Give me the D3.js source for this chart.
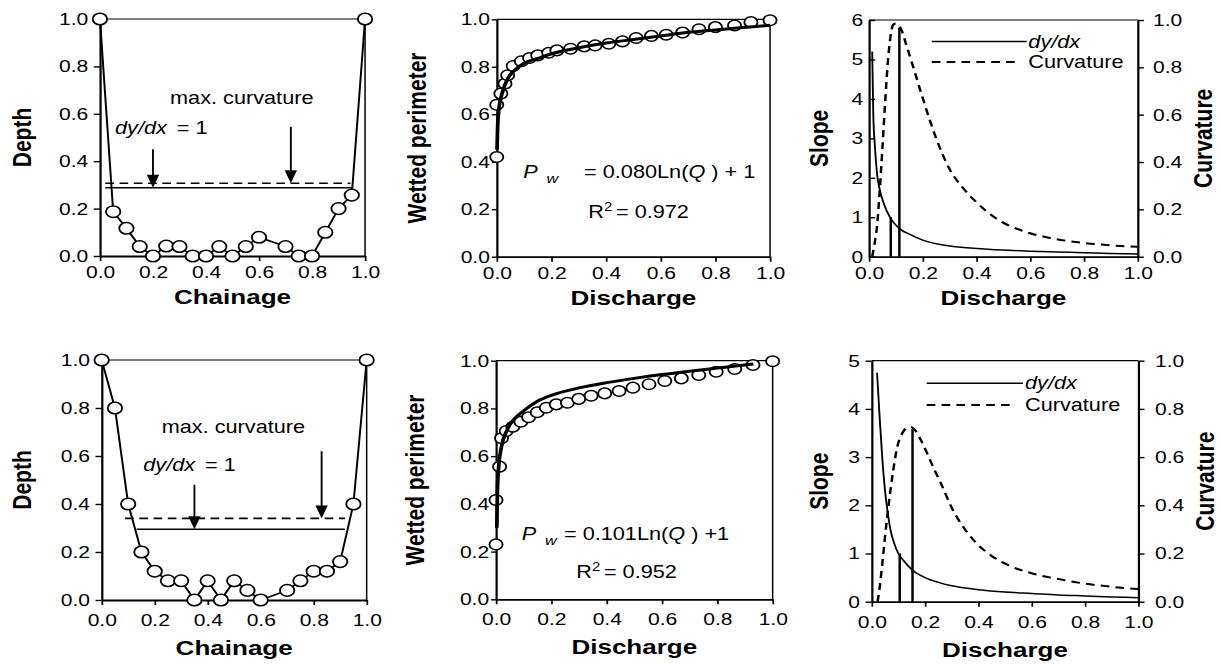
<!DOCTYPE html>
<meta charset="utf-8">
<script src="https://d3js.org/d3.v7.min.js"></script>
<style>
  body { margin: 0; background: #fff; }
  text { font-family: "Liberation Sans", Arial, sans-serif; fill: #000; }
</style>
<div id="page"></div>
<script>

  // ---- data ----
  var xTicks = [0, 0.2, 0.4, 0.6, 0.8, 1.0];
  var unitTicks = [0, 0.2, 0.4, 0.6, 0.8, 1.0];
  var slopeTicks1 = [0, 1, 2, 3, 4, 5, 6];
  var slopeTicks2 = [0, 1, 2, 3, 4, 5];

  // cross sections (top / bottom)
  var chainage1 = [0, 0.05, 0.10, 0.15, 0.20, 0.25, 0.30, 0.35, 0.40, 0.45, 0.50, 0.55, 0.60, 0.70, 0.75, 0.80, 0.85, 0.90, 0.95, 1.0];
  var depth1 = [1.0, 0.187, 0.117, 0.04, 0, 0.042, 0.04, 0, 0, 0.04, 0, 0.04, 0.079, 0.04, 0, 0, 0.10, 0.20, 0.257, 1.0];
  var chainage2 = [0, 0.05, 0.10, 0.15, 0.20, 0.25, 0.30, 0.35, 0.40, 0.45, 0.50, 0.55, 0.60, 0.70, 0.75, 0.80, 0.85, 0.90, 0.95, 1.0];
  var depth2 = [1.0, 0.80, 0.40, 0.20, 0.12, 0.08, 0.08, 0, 0.08, 0, 0.08, 0.04, 0, 0.04, 0.08, 0.12, 0.12, 0.16, 0.40, 1.0];

  // water levels: [max curvature (dashed), dy/dx = 1 (solid)]
  var level1 = [0.307, 0.288], levelFrom1 = [0.02, 0.02], levelTo1 = [0.945, 0.955];
  var level2 = [0.34, 0.295], levelFrom2 = [0.088, 0.132], levelTo2 = [0.918, 0.918];
  // arrows: [dy/dx = 1, max curvature]
  var arrowX1 = [0.20, 0.72], arrowTop1 = [0.45, 0.545], arrowTip1 = [0.288, 0.307];
  var arrowX2 = [0.35, 0.83], arrowTop2 = [0.48, 0.62], arrowTip2 = [0.295, 0.34];

  // wetted perimeter vs discharge
  var q1 = [0, 0, 0.015, 0.03, 0.04, 0.06, 0.09, 0.12, 0.15, 0.19, 0.22, 0.27, 0.32, 0.36, 0.41, 0.46, 0.51, 0.566, 0.62, 0.68, 0.74, 0.80, 0.87, 0.93, 1.0];
  var pw1 = [0.42, 0.64, 0.687, 0.729, 0.764, 0.803, 0.823, 0.837, 0.848, 0.859, 0.869, 0.876, 0.886, 0.89, 0.897, 0.907, 0.921, 0.93, 0.935, 0.944, 0.958, 0.967, 0.974, 0.988, 0.996];
  var fitQ1 = [0.001, 0.003, 0.006, 0.01, 0.02, 0.04, 0.06, 0.1, 0.15, 0.2, 0.3, 0.4, 0.5, 0.6, 0.7, 0.8, 0.9, 1.0];
  var fitP1 = [0.45, 0.54, 0.60, 0.64, 0.69, 0.75, 0.78, 0.815, 0.835, 0.855, 0.88, 0.90, 0.915, 0.93, 0.945, 0.955, 0.965, 0.975];

  var q2 = [0, 0, 0.013, 0.02, 0.037, 0.061, 0.09, 0.118, 0.149, 0.182, 0.218, 0.258, 0.299, 0.344, 0.393, 0.445, 0.495, 0.553, 0.61, 0.67, 0.733, 0.796, 0.863, 0.929, 1.0];
  var pw2 = [0.23, 0.416, 0.556, 0.675, 0.705, 0.723, 0.744, 0.763, 0.784, 0.803, 0.817, 0.824, 0.84, 0.853, 0.863, 0.873, 0.887, 0.901, 0.915, 0.926, 0.94, 0.954, 0.965, 0.982, 0.998];
  var fitQ2 = [0.003, 0.005, 0.01, 0.02, 0.04, 0.07, 0.1, 0.15, 0.2, 0.3, 0.4, 0.5, 0.6, 0.7, 0.8, 0.93];
  var fitP2 = [0.30, 0.45, 0.56, 0.64, 0.71, 0.76, 0.79, 0.83, 0.855, 0.886, 0.908, 0.926, 0.942, 0.956, 0.969, 0.986];

  // slope (left axis) and curvature (right axis)
  var slopeQ1 = [0.012, 0.016, 0.022, 0.03, 0.04, 0.055, 0.078, 0.1, 0.12, 0.15, 0.2, 0.3, 0.4, 0.5, 0.6, 0.7, 0.8, 0.9, 1.0];
  var slope1 = [5.2, 3.6, 2.8, 2.1, 1.7, 1.35, 1.0, 0.8, 0.68, 0.57, 0.42, 0.27, 0.21, 0.17, 0.14, 0.12, 0.10, 0.08, 0.07];
  var curvQ1 = [0.012, 0.02, 0.03, 0.04, 0.05, 0.06, 0.07, 0.08, 0.09, 0.1, 0.12, 0.14, 0.165, 0.2, 0.25, 0.3, 0.35, 0.4, 0.475, 0.57, 0.67, 0.8, 0.9, 1.0];
  var curv1 = [0.0, 0.05, 0.13, 0.28, 0.46, 0.65, 0.82, 0.93, 0.98, 0.985, 0.96, 0.89, 0.80, 0.67, 0.50, 0.37, 0.29, 0.23, 0.16, 0.11, 0.08, 0.058, 0.048, 0.042];
  var markQ1 = [0.081, 0.113], markTop1 = [1.0, 5.8];

  var slopeQ2 = [0.02, 0.03, 0.04, 0.05, 0.06, 0.07, 0.085, 0.1, 0.12, 0.15, 0.2, 0.25, 0.3, 0.4, 0.5, 0.6, 0.7, 0.8, 0.9, 1.0];
  var slope2 = [4.75, 3.8, 2.95, 2.3, 1.85, 1.5, 1.2, 1.0, 0.85, 0.67, 0.5, 0.4, 0.33, 0.25, 0.2, 0.17, 0.14, 0.12, 0.10, 0.08];
  var curvQ2 = [0.022, 0.03, 0.04, 0.05, 0.06, 0.07, 0.08, 0.09, 0.1, 0.115, 0.13, 0.145, 0.16, 0.18, 0.2, 0.23, 0.26, 0.3, 0.35, 0.4, 0.45, 0.52, 0.6, 0.7, 0.8, 0.9, 1.0];
  var curv2 = [0.0, 0.06, 0.16, 0.27, 0.37, 0.46, 0.54, 0.61, 0.66, 0.70, 0.72, 0.725, 0.715, 0.68, 0.635, 0.56, 0.49, 0.39, 0.30, 0.235, 0.19, 0.148, 0.118, 0.094, 0.075, 0.062, 0.052];
  var markQ2 = [0.105, 0.153], markTop2 = [1.0, 3.58];

  // ---- layout: the original figure is stretched horizontally ----
  var sx = 1.24;
  var svg = d3.select("#page").append("svg")
    .attr("width", 1221)
    .attr("height", 664);
  var root = svg.append("g").attr("transform", "scale(" + sx + ",1)");

  function zip(a, b) { return a.map(function (d, i) { return [d, b[i]]; }); }

  function panel(box, ymax, yTicks, yFmt, opt) {
    var x = d3.scaleLinear().domain([0, 1]).range([box.l, box.r]);
    var y = d3.scaleLinear().domain([0, ymax]).range([box.b, box.t]);
    var y2 = d3.scaleLinear().domain([0, 1]).range([box.b, box.t]);
    var g = root.append("g");

    // top + right frame
    g.append("path")
      .attr("d", "M" + box.l + "," + box.t + "H" + box.r + (opt.right ? "" : "V" + box.b))
      .attr("fill", "none").attr("stroke", "#000").attr("stroke-width", 1.2);

    var xa = g.append("g")
      .attr("transform", "translate(0," + box.b + ")")
      .call(d3.axisBottom(x).tickValues(xTicks).tickFormat(d3.format(".1f"))
        .tickSizeInner(5).tickSizeOuter(0).tickPadding(opt.xpad));
    var ya = g.append("g")
      .attr("transform", "translate(" + box.l + ",0)")
      .call(d3.axisLeft(y).tickValues(yTicks).tickFormat(d3.format(yFmt))
        .tickSizeInner(opt.ytick).tickSizeOuter(0).tickPadding(opt.ypad));
    var axes = [xa, ya];

    if (opt.right) {
      axes.push(g.append("g")
        .attr("transform", "translate(" + box.r + ",0)")
        .call(d3.axisRight(y2).tickValues(unitTicks).tickFormat(d3.format(".1f"))
          .tickSizeInner(5).tickSizeOuter(0).tickPadding(opt.rpad)));
      g.append("text")
        .attr("transform", "translate(" + (box.r + opt.rtitle) + "," + ((box.t + box.b) / 2) + ")rotate(-90)")
        .attr("text-anchor", "middle").attr("dy", "0.35em")
        .attr("font-size", 21).attr("font-weight", "bold")
        .text(opt.right);
    }

    axes.forEach(function (a) {
      a.attr("font-family", null).attr("font-size", null);
      a.select(".domain").attr("stroke-width", 1.8);
      a.selectAll(".tick line").attr("stroke-width", 1.4);
      a.selectAll(".tick text").attr("font-size", 17);
    });

    g.append("text")
      .attr("x", (box.l + box.r) / 2).attr("y", box.b + opt.xtitle)
      .attr("text-anchor", "middle")
      .attr("font-size", 21).attr("font-weight", "bold")
      .text(opt.xlabel);
    g.append("text")
      .attr("transform", "translate(" + (box.l - opt.ytitle) + "," + ((box.t + box.b) / 2) + ")rotate(-90)")
      .attr("text-anchor", "middle").attr("dy", "0.35em")
      .attr("font-size", 21).attr("font-weight", "bold")
      .text(opt.ylabel);

    return { g: g, x: x, y: y, y2: y2, box: box };
  }

  // ---- cross section panels ----
  function section(p, xs, ys, lev, from, to, ax, atop, atip, labels) {
    var g = p.g, x = p.x, y = p.y;
    lev.forEach(function (v, i) {
      g.append("line")
        .attr("x1", x(from[i])).attr("x2", x(to[i]))
        .attr("y1", y(v)).attr("y2", y(v))
        .attr("stroke", "#000").attr("stroke-width", 1.6)
        .attr("stroke-dasharray", i === 0 ? "7,4.5" : null);
    });
    ax.forEach(function (v, i) {
      var tx = x(v), ty = y(atip[i]);
      g.append("line")
        .attr("x1", tx).attr("x2", tx).attr("y1", y(atop[i])).attr("y2", ty - 10)
        .attr("stroke", "#000").attr("stroke-width", 1.5);
      g.append("path")
        .attr("d", "M" + (tx - 5) + "," + (ty - 13) + "L" + (tx + 5) + "," + (ty - 13) + "L" + tx + "," + ty + "Z")
        .attr("fill", "#000");
    });
    g.append("path")
      .datum(zip(xs, ys))
      .attr("d", d3.line().x(function (d) { return x(d[0]); }).y(function (d) { return y(d[1]); }))
      .attr("fill", "none").attr("stroke", "#000").attr("stroke-width", 1.6);
    g.selectAll("circle.pt")
      .data(zip(xs, ys))
      .enter().append("circle")
      .attr("cx", function (d) { return x(d[0]); })
      .attr("cy", function (d) { return y(d[1]); })
      .attr("r", 5.8)
      .attr("fill", "#fff").attr("stroke", "#000").attr("stroke-width", 1.5);

    g.append("text")
      .attr("x", x(labels[0])).attr("y", y(labels[1]))
      .attr("text-anchor", "middle").attr("font-size", 17.5)
      .text("max. curvature");
    var t = g.append("text")
      .attr("x", x(labels[2])).attr("y", y(labels[3]))
      .attr("font-size", 17.5);
    t.append("tspan").attr("font-style", "italic").text("dy/dx");
    t.append("tspan").attr("dx", 8).text("= 1");
  }

  // ---- wetted perimeter panels ----
  function perimeter(p, xs, ys, fx, fy, eq, r2, pos, gap) {
    var g = p.g, x = p.x, y = p.y;
    g.selectAll("circle.pt")
      .data(zip(xs, ys))
      .enter().append("circle")
      .attr("cx", function (d) { return x(d[0]); })
      .attr("cy", function (d) { return y(d[1]); })
      .attr("r", 5.3)
      .attr("fill", "#fff").attr("stroke", "#000").attr("stroke-width", 1.5);
    g.append("path")
      .datum(zip(fx, fy))
      .attr("d", d3.line().curve(d3.curveMonotoneX)
        .x(function (d) { return x(d[0]); }).y(function (d) { return y(d[1]); }))
      .attr("fill", "none").attr("stroke", "#000").attr("stroke-width", 3);

    var t = g.append("text")
      .attr("x", x(pos[0])).attr("y", y(pos[1]))
      .attr("font-size", 17.5);
    t.append("tspan").attr("font-style", "italic").text("P");
    t.append("tspan").attr("font-style", "italic").attr("font-size", 13).attr("dx", 7).attr("dy", 5).text("w");
    t.append("tspan").attr("dx", gap).attr("dy", -5).text(eq[0]);
    t.append("tspan").attr("font-style", "italic").text("Q");
    t.append("tspan").text(eq[1]);

    var r = g.append("text")
      .attr("x", x(pos[2])).attr("y", y(pos[3]))
      .attr("font-size", 17.5);
    r.append("tspan").text("R");
    r.append("tspan").attr("font-size", 12).attr("dy", -7).text("2");
    r.append("tspan").attr("dy", 7).attr("dx", 3).text(r2);
  }

  // ---- slope / curvature panels ----
  function slopes(p, sq, sv, cq, cv, mq, mt, leg) {
    var g = p.g, x = p.x, y = p.y, y2 = p.y2, b = p.box;
    var line = d3.line().curve(d3.curveMonotoneX).x(function (d) { return x(d[0]); });
    g.append("path")
      .datum(zip(sq, sv))
      .attr("d", line.y(function (d) { return y(d[1]); }))
      .attr("fill", "none").attr("stroke", "#000").attr("stroke-width", 1.5);
    g.append("path")
      .datum(zip(cq, cv))
      .attr("d", line.y(function (d) { return y2(d[1]); }))
      .attr("fill", "none").attr("stroke", "#000").attr("stroke-width", 2)
      .attr("stroke-dasharray", "7,5");
    mq.forEach(function (v, i) {
      g.append("line")
        .attr("x1", x(v)).attr("x2", x(v)).attr("y1", y(0)).attr("y2", y(mt[i]))
        .attr("stroke", "#000").attr("stroke-width", 2);
    });
    // legend
    var names = ["dy/dx", "Curvature"];
    names.forEach(function (n, i) {
      var ly = b.t + leg[1 + i];
      g.append("line")
        .attr("x1", b.l + leg[0]).attr("x2", b.l + leg[3 + i]).attr("y1", ly).attr("y2", ly)
        .attr("stroke", "#000").attr("stroke-width", i === 0 ? 1.6 : 2)
        .attr("stroke-dasharray", i === 0 ? null : "7,5");
      g.append("text")
        .attr("x", b.l + leg[5]).attr("y", ly).attr("dy", "0.35em")
        .attr("font-size", 17.5).attr("font-style", i === 0 ? "italic" : null)
        .text(n);
    });
  }

  // ---- build the six panels ----
  var p1 = panel({ l: 80.6, r: 294.4, t: 19, b: 256 }, 1, unitTicks, ".1f",
    { xpad: 5, ytick: 5, ypad: 4.4, xtitle: 48, ytitle: 63, xlabel: "Chainage", ylabel: "Depth" });
  section(p1, chainage1, depth1, level1, levelFrom1, levelTo1, arrowX1, arrowTop1, arrowTip1, [0.535, 0.64, 0.057, 0.515]);

  var p2 = panel({ l: 400.6, r: 621, t: 19.3, b: 256.7 }, 1, unitTicks, ".1f",
    { xpad: 5, ytick: 4, ypad: 1.5, xtitle: 48, ytitle: 64.6, xlabel: "Discharge", ylabel: "Wetted perimeter" });
  perimeter(p2, q1, pw1, fitQ1, fitP1, ["= 0.080Ln(", " ) + 1"], "= 0.972", [0.097, 0.33, 0.335, 0.163], 21);

  var p3 = panel({ l: 700.8, r: 917.5, t: 20, b: 256.7 }, 6, slopeTicks1, "d",
    { xpad: 5, ytick: -5, ypad: 4.6, xtitle: 48, ytitle: 40.8, xlabel: "Discharge", ylabel: "Slope",
      right: "Curvature", rpad: 7.3, rtitle: 52.9 });
  slopes(p3, slopeQ1, slope1, curvQ1, curv1, markQ1, markTop1, [50.6, 21.5, 42, 127.2, 121.8, 128.5]);

  var p4 = panel({ l: 82, r: 295.7, t: 360, b: 600 }, 1, unitTicks, ".1f",
    { xpad: 9, ytick: 5, ypad: 4.4, xtitle: 55, ytitle: 64.5, xlabel: "Chainage", ylabel: "Depth" });
  section(p4, chainage2, depth2, level2, levelFrom2, levelTo2, arrowX2, arrowTop2, arrowTip2, [0.497, 0.696, 0.157, 0.5375]);

  var p5 = panel({ l: 400, r: 623.1, t: 360.7, b: 599.3 }, 1, unitTicks, ".1f",
    { xpad: 9, ytick: 4, ypad: 1.5, xtitle: 55, ytitle: 65.3, xlabel: "Discharge", ylabel: "Wetted perimeter" });
  perimeter(p5, q2, pw2, fitQ2, fitP2, ["= 0.101Ln(", " ) +1"], "= 0.952", [0.093, 0.248, 0.29, 0.089], 6);

  var p6 = panel({ l: 703, r: 918, t: 360.7, b: 601.7 }, 5, slopeTicks2, "d",
    { xpad: 9, ytick: 5, ypad: 4.4, xtitle: 55, ytitle: 43, xlabel: "Discharge", ylabel: "Slope",
      right: "Curvature", rpad: 8.5, rtitle: 53.8 });
  slopes(p6, slopeQ2, slope2, curvQ2, curv2, markQ2, markTop2, [44.3, 22.6, 44.3, 122, 114.2, 123.6]);

</script>
